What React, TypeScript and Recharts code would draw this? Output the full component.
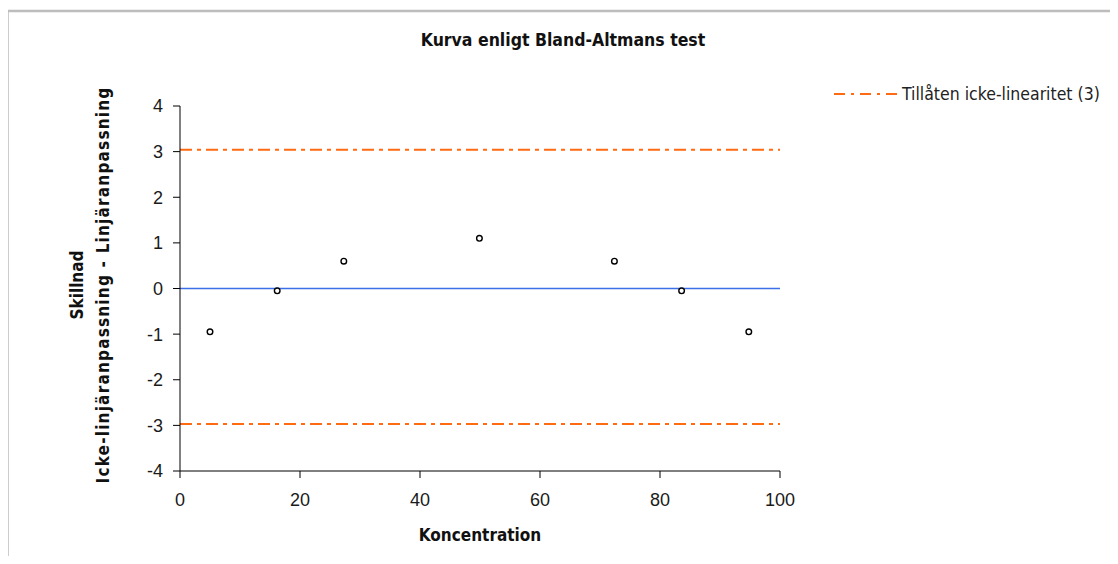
import {
  ScatterChart,
  Scatter,
  XAxis,
  YAxis,
  ReferenceLine,
  Label,
} from 'recharts';

// Koncentration (x) and Skillnad (y)
const koncentration = [5.0, 16.2, 27.3, 49.9, 72.4, 83.6, 94.8];
const skillnad = [-0.95, -0.05, 0.6, 1.1, 0.6, -0.05, -0.95];
const xTicks = [0, 20, 40, 60, 80, 100];
const yTicks = [-4, -3, -2, -1, 0, 1, 2, 3, 4];
const limits = [3.04, -2.97];
const legendLabel = 'Tillåten icke-linearitet (3)';

const ORANGE = '#ff6a13';
const BLUE = '#3a6fe8';
const DASH = '12 5 4 5';
const tickFont = { fontFamily: 'Liberation Sans, Arial, sans-serif', fontSize: 18, fill: '#1a1a1a' };
const labelFont = "'DejaVu Sans Condensed', 'DejaVu Sans', sans-serif";

const points = koncentration.map((x, i) => ({ x, y: skillnad[i] }));

function Ring(props: any): JSX.Element {
  const { cx, cy } = props;
  return <circle cx={cx} cy={cy} r={2.8} fill="#fff" stroke="#000" strokeWidth={1.4} />;
}

function YLabel(): JSX.Element {
  return (
    <text
      transform="translate(0, 285) rotate(-90)"
      textAnchor="middle"
      fontFamily={labelFont}
      fontWeight="bold"
      fontSize={17}
      fill="#111"
    >
      <tspan x={0} y={83}>Skillnad</tspan>
      <tspan x={0} y={109} letterSpacing={1.2}>
        Icke-linjäranpassning - Linjäranpassning
      </tspan>
    </text>
  );
}

export default function App(): JSX.Element {
  return (
    <div style={{ position: 'relative', margin: -8, width: 1118, height: 564, overflow: 'hidden', background: '#fff' }}>
      <div
        style={{
          position: 'absolute',
          top: 30,
          left: 4,
          width: 1118,
          textAlign: 'center',
          fontFamily: labelFont,
          fontWeight: 'bold',
          fontSize: 17.5,
          color: '#111',
        }}
      >
        Kurva enligt Bland-Altmans test
      </div>
      <div style={{ position: 'absolute', left: 833, top: 82 }}>
        <svg width={285} height={24}>
          <line x1={1} y1={12} x2={66} y2={12} stroke={ORANGE} strokeWidth={2} strokeDasharray="11 6 3 6" />
          <text x={69} y={18} fontFamily={labelFont} fontSize={17.5} fill="#222">
            {legendLabel}
          </text>
        </svg>
      </div>
      <div style={{ position: 'absolute', left: 0, top: 0 }}>
        <ScatterChart width={1118} height={564} margin={{ top: 106, right: 338, bottom: 63, left: 120 }}>
          <XAxis
            type="number"
            dataKey="x"
            domain={[0, 100]}
            ticks={xTicks}
            interval={0}
            tick={tickFont}
            tickSize={7}
            tickMargin={15}
            stroke="#000"
            height={30}
          >
            <Label
              value="Koncentration"
              position="bottom"
              offset={28}
              style={{ fontFamily: labelFont, fontWeight: 'bold', fontSize: 17, fill: '#111' }}
            />
          </XAxis>
          <YAxis
            type="number"
            dataKey="y"
            domain={[-4, 4]}
            ticks={yTicks}
            interval={0}
            tick={tickFont}
            tickSize={7}
            tickMargin={10}
            stroke="#000"
            width={60}
          >
            <Label content={<YLabel />} />
          </YAxis>
          <ReferenceLine y={0} stroke={BLUE} strokeWidth={1.5} />
          {limits.map((v) => (
            <ReferenceLine key={v} y={v} stroke={ORANGE} strokeWidth={2} strokeDasharray={DASH} />
          ))}
          <Scatter data={points} shape={<Ring />} isAnimationActive={false} />
        </ScatterChart>
      </div>
      <svg
        width={1118}
        height={564}
        style={{ position: 'absolute', left: 0, top: 0, pointerEvents: 'none' }}
      >
        <path d="M7.5,564 V11 H1118" fill="none" stroke="#bdbdbd" strokeWidth={2.5} />
      </svg>
    </div>
  );
}
